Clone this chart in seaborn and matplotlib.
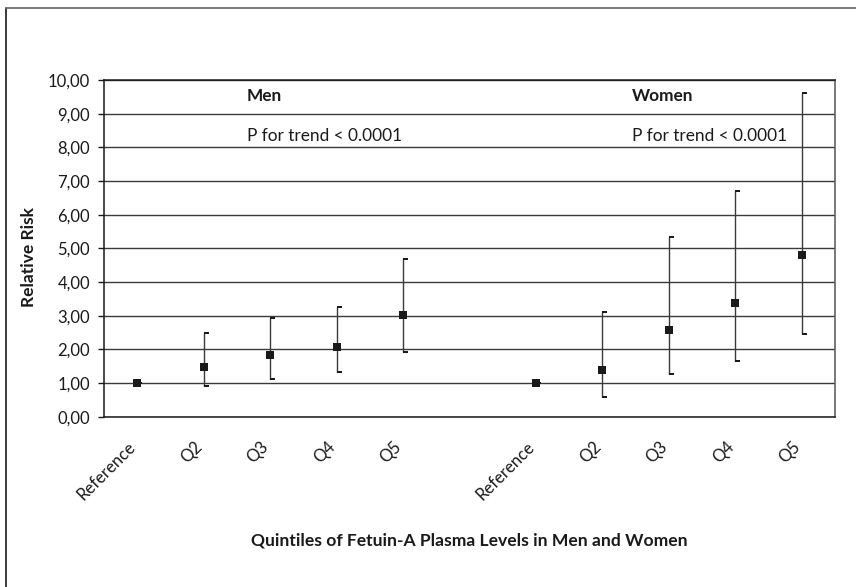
import numpy as np
import pandas as pd
import seaborn as sns
import matplotlib.pyplot as plt
from matplotlib.path import Path
from matplotlib.ticker import FuncFormatter, FixedLocator
import matplotlib.transforms as mtransforms

# data
slots = ["Reference", "Q2", "Q3", "Q4", "Q5", "",
         "Reference", "Q2", "Q3", "Q4", "Q5"]
men_rr = [1.00, 1.49, 1.83, 2.08, 3.01]
men_lo = [1.00, 0.91, 1.13, 1.34, 1.92]
men_hi = [1.00, 2.50, 2.92, 3.26, 4.67]
women_rr = [1.00, 1.40, 2.57, 3.37, 4.80]
women_lo = [1.00, 0.59, 1.28, 1.65, 2.45]
women_hi = [1.00, 3.11, 5.33, 6.71, 9.61]

men_pos = [0, 1, 2, 3, 4]
women_pos = [6, 7, 8, 9, 10]

df = pd.DataFrame({
    "pos": men_pos + women_pos,
    "rr": men_rr + women_rr,
    "lo": men_lo + women_lo,
    "hi": men_hi + women_hi,
    "sex": ["Men"] * 5 + ["Women"] * 5,
})

sns.set_style("white")
plt.rcParams['font.family'] = ['Lato', 'DejaVu Sans']
plt.rcParams['text.color'] = '#1a1a1a'

fig = plt.figure(figsize=(8.56, 5.87), dpi=100)
ax = fig.add_axes([104 / 856, (587 - 416.7) / 587, 731 / 856, 336.7 / 587])

ink = '#1a1a1a'
grid = '#3a3a3a'

# whiskers
ax.vlines(df["pos"], df["lo"], df["hi"], color=grid, lw=1.0, zorder=3)

# caps: small dash sitting just right of the whisker
cap = Path([(0, -0.3), (1, -0.3), (1, 0.3), (0, 0.3), (0, -0.3)],
           [Path.MOVETO, Path.LINETO, Path.LINETO, Path.LINETO, Path.CLOSEPOLY])
for col in ["lo", "hi"]:
    ax.plot(df["pos"], df[col], ls='none', marker=cap, ms=6.5, color=ink,
            mec=ink, mew=0, zorder=4)

# point estimates
sns.scatterplot(data=df, x="pos", y="rr", marker='s', s=26, color=ink,
                edgecolor=ink, linewidth=0, ax=ax, zorder=5, legend=False)

ax.set_xlim(-0.5, 10.5)
ax.set_ylim(0, 10)
ax.set_yticks(np.arange(0, 11, 1))
ax.yaxis.set_major_formatter(FuncFormatter(lambda v, p: f"{v:.2f}".replace('.', ',')))
ax.grid(axis='y', color=grid, lw=1.0)
ax.set_axisbelow(True)

# category boundaries as ticks, labels in the middle
ax.xaxis.set_major_locator(FixedLocator(np.arange(-0.5, 11, 1)))
ax.xaxis.set_minor_locator(FixedLocator(np.arange(len(slots))))
ax.set_xticklabels([""] * 12)
ax.set_xticklabels(slots, minor=True)
ax.tick_params(axis='x', which='major', direction='inout', length=11, width=1,
               color=grid)
ax.tick_params(axis='x', which='minor', length=0, pad=20, labelsize=12,
               labelcolor=ink)
lab_shift = mtransforms.ScaledTranslation(-4 / 100, 0, fig.dpi_scale_trans)
for t in ax.get_xticklabels(minor=True):
    t.set_rotation(45)
    t.set_ha('right')
    t.set_va('center')
    t.set_rotation_mode('anchor')
    t.set_transform(t.get_transform() + lab_shift)

ax.tick_params(axis='y', direction='out', length=4, width=1, color=ink,
               pad=6, labelsize=12, labelcolor=ink, left=True)

for s in ['left', 'bottom', 'top']:
    ax.spines[s].set_color(ink)
    ax.spines[s].set_linewidth(1.1)
ax.spines['right'].set_color('#555555')
ax.spines['right'].set_linewidth(1.1)

ax.set_xlabel("Quintiles of Fetuin-A Plasma Levels in Men and Women",
              fontsize=12.6, fontweight='bold', color=ink)
ax.xaxis.set_label_coords(0.5, -(533 - 416.7) / 336.7)
ax.set_ylabel("Relative Risk", fontsize=12.5, fontweight='bold', color=ink)
ax.yaxis.set_label_coords(-(104 - 36.7) / 731, (416.7 - 257) / 336.7)

# group annotations
ax.text(1.65, 9.52, "Men", fontsize=12.4, fontweight='bold', va='center', ha='left')
ax.text(1.65, 8.34, "P for trend < 0.0001", fontsize=12.4, va='center', ha='left')
ax.text(7.44, 9.52, "Women", fontsize=12.4, fontweight='bold', va='center', ha='left')
ax.text(7.44, 8.34, "P for trend < 0.0001", fontsize=12.4, va='center', ha='left')

# outer frame (left and top edges visible)
fig.add_artist(plt.Line2D([5.5 / 856, 5.5 / 856], [0, 1 - 8 / 587],
                          transform=fig.transFigure, color=ink, lw=1.2))
fig.add_artist(plt.Line2D([5.5 / 856, 1], [1 - 8 / 587, 1 - 8 / 587],
                          transform=fig.transFigure, color='#666666', lw=1.2))

fig.savefig("out.png", dpi=100)
